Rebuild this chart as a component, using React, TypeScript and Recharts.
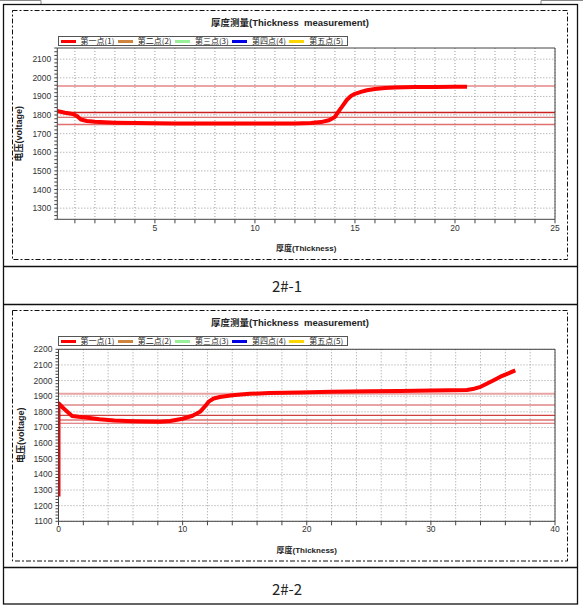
import React from 'react';
import { LineChart, Line, XAxis, YAxis, CartesianGrid, ReferenceLine, Legend } from 'recharts';

// ---------- data ----------
const seriesNames = ['第一点(1)', '第二点(2)', '第三点(3)', '第四点(4)', '第五点(5)'];

// chart 2#-1
const c1Thickness = [0.1, 0.5, 0.9, 1.1, 1.3, 1.6, 2.0, 2.5, 3.0, 4.0, 5.0, 6.0, 7.0, 8.0, 9.0, 10.0, 11.0, 12.0, 12.8, 13.3, 13.7, 14.0, 14.2, 14.4, 14.6, 14.8, 15.0, 15.3, 15.6, 16.0, 16.5, 17.0, 18.0, 19.0, 20.0, 20.6];
const c1Voltage = [1822, 1812, 1806, 1795, 1776, 1768, 1764, 1761, 1759, 1757, 1756, 1755, 1755, 1755, 1755, 1754, 1755, 1755, 1757, 1762, 1772, 1790, 1822, 1852, 1882, 1902, 1914, 1924, 1933, 1940, 1945, 1948, 1950, 1951, 1952, 1952];
const c1RefLines = [1956, 1813, 1788, 1749];
const c1XTicks = [1, 2, 3, 4, 5, 6, 7, 8, 9, 10, 11, 12, 13, 14, 15, 16, 17, 18, 19, 20, 21, 22, 23, 24, 25];
const c1XLabels = [5, 10, 15, 20, 25];
const c1YLabels = [1300, 1400, 1500, 1600, 1700, 1800, 1900, 2000, 2100];

// chart 2#-2
const c2Thickness = [0, 0, 0.4, 0.8, 1.1, 1.6, 2.2, 3.3, 4.5, 6.0, 7.0, 8.2, 9.0, 10.0, 10.8, 11.4, 11.8, 12.1, 12.5, 13.0, 14.0, 15.4, 17.0, 19.4, 22.0, 25.0, 27.5, 30.0, 32.9, 33.5, 34.0, 34.5, 35.1, 35.6, 36.2, 36.8];
const c2Voltage = [1258, 1855, 1823, 1795, 1774, 1768, 1764, 1752, 1745, 1740, 1738, 1737, 1742, 1756, 1775, 1800, 1835, 1865, 1885, 1895, 1906, 1915, 1920, 1923, 1928, 1931, 1933, 1936, 1940, 1948, 1960, 1980, 2004, 2025, 2045, 2065];
const c2RefLines = [1916, 1844, 1778, 1748, 1727];
const c2XTicks = [0, 2, 4, 6, 8, 10, 12, 14, 16, 18, 20, 22, 24, 26, 28, 30, 32, 34, 36, 38, 40];
const c2XLabels = [0, 10, 20, 30, 40];
const c2YLabels = [1100, 1200, 1300, 1400, 1500, 1600, 1700, 1800, 1900, 2000, 2100, 2200];

// ---------- styles ----------
const seriesColors = ['#ff0000', '#cd853f', '#98f098', '#0000e6', '#ffd700'];
const c1RefStyles = [
  { stroke: '#e48484', width: 1.5 },
  { stroke: '#cc2020', width: 1.5 },
  { stroke: '#d04848', width: 1 },
  { stroke: '#e07070', width: 1.5 },
];
const c2RefStyles = [
  { stroke: '#e8a4a4', width: 2 },
  { stroke: '#e8a4a4', width: 2 },
  { stroke: '#d04040', width: 1.2 },
  { stroke: '#cc3030', width: 1.2 },
  { stroke: '#d86060', width: 1.2 },
];

const LATIN = '"Liberation Sans", Arial, "Noto Sans CJK SC", sans-serif';
const AXIS = '#444';

function minorTicks(lo: number, hi: number, step: number) {
  const out: number[] = [];
  for (let v = lo; v <= hi + 1e-9; v += step) out.push(v);
  return out;
}

const LegendBox = (props: any) => {
  const payload = [...(props.payload || [])].sort(
    (a: any, b: any) => seriesNames.indexOf(a.value) - seriesNames.indexOf(b.value)
  );
  return (
    <div
      style={{
        display: 'flex',
        alignItems: 'center',
        border: '1px solid #555',
        height: 8,
        padding: '0 0 0 2px',
        background: '#fff',
        fontFamily: '"Noto Sans CJK SC", sans-serif',
        fontSize: 8,
        lineHeight: '8px',
        color: '#222',
        width: 286,
        boxSizing: 'content-box',
        overflow: 'hidden',
      }}
    >
      {payload.map((p: any, i: number) => (
        <div key={i} style={{ display: 'flex', alignItems: 'center', width: 57.5, height: 8 }}>
          <span style={{ display: 'inline-block', width: 15, height: 3, background: p.color, marginRight: 5 }} />
          <span style={{ whiteSpace: 'nowrap', display: 'inline-block', height: 8, lineHeight: '8px' }}>{p.value}</span>
        </div>
      ))}
    </div>
  );
};

type ChartProps = {
  top: number;
  thickness: number[];
  voltage: number[];
  refLines: number[];
  refStyles: { stroke: string; width: number }[];
  xDomain: [number, number];
  xTicks: number[];
  xLabels: number[];
  yDomain: [number, number];
  yLabels: number[];
  margin: { top: number; right: number; bottom: number; left: number };
  xTickGap: number;
};

function ThicknessChart(p: ChartProps) {
  const data = p.thickness.map((t, i) => ({ t, v: p.voltage[i] }));
  const yTicks = minorTicks(p.yDomain[0], p.yDomain[1], 20);
  const XTick = (tp: any) => {
    const v = tp.payload.value;
    if (!p.xLabels.includes(v)) return <g />;
    return (
      <text x={tp.x} y={tp.y + p.xTickGap} textAnchor="middle" fontSize={8.5} fontFamily={LATIN} fill="#333">
        {v}
      </text>
    );
  };
  const YTick = (tp: any) => {
    const v = tp.payload.value;
    if (!p.yLabels.includes(v)) return <g />;
    return (
      <text x={tp.x - 1} y={tp.y + 3} textAnchor="end" fontSize={8.5} fontFamily={LATIN} fill="#333">
        {v}
      </text>
    );
  };
  return (
    <div style={{ position: 'absolute', left: 0, top: p.top, width: 583, height: 262 }}>
      <div
        style={{
          position: 'absolute',
          left: 0,
          width: 580,
          top: 17,
          textAlign: 'center',
          fontFamily: LATIN,
          fontWeight: 'bold',
          fontSize: 9.5,
          lineHeight: '11px',
          color: '#222',
          whiteSpace: 'pre',
        }}
      >
        {'厚度测量(Thickness  measurement)'}
      </div>
      <LineChart width={583} height={262} margin={p.margin}>
        <CartesianGrid
          xAxisId="x"
          yAxisId="y"
          stroke="#9a9a9a"
          strokeDasharray="1 2"
          horizontalValues={p.yLabels}
          verticalValues={p.xTicks}
        />
        <XAxis
          xAxisId="x"
          dataKey="t"
          type="number"
          domain={p.xDomain}
          ticks={p.xTicks}
          interval={0}
          allowDataOverflow
          height={32}
          tickSize={4}
          tickLine={{ stroke: AXIS }}
          axisLine={{ stroke: AXIS }}
          tick={XTick}
          label={{
            value: '厚度(Thickness)',
            position: 'insideBottom',
            offset: 0,
            style: { fontSize: 8, fontWeight: 'bold', fontFamily: LATIN, fill: '#222' },
          }}
        />
        <XAxis
          xAxisId="top"
          type="number"
          orientation="top"
          mirror
          domain={p.xDomain}
          ticks={p.xTicks}
          interval={0}
          allowDataOverflow
          height={1}
          tickSize={3}
          tickLine={{ stroke: AXIS }}
          axisLine={{ stroke: AXIS }}
          tick={false}
        />
        <YAxis
          yAxisId="y"
          type="number"
          domain={p.yDomain}
          ticks={yTicks}
          interval={0}
          allowDataOverflow
          width={45}
          tickSize={3}
          tickLine={{ stroke: AXIS }}
          axisLine={{ stroke: AXIS }}
          tick={YTick}
          label={{
            value: '电压(voltage)',
            angle: -90,
            position: 'insideLeft',
            offset: 7,
            style: { fontSize: 9, fontWeight: 'bold', fontFamily: LATIN, fill: '#222', textAnchor: 'middle' },
          }}
        />
        <YAxis
          yAxisId="right"
          type="number"
          orientation="right"
          mirror
          domain={p.yDomain}
          ticks={yTicks}
          interval={0}
          allowDataOverflow
          width={1}
          tickSize={2}
          tickLine={{ stroke: AXIS }}
          axisLine={{ stroke: AXIS }}
          tick={false}
        />
        {p.refLines.map((v, i) => (
          <ReferenceLine
            key={'r' + i}
            xAxisId="x"
            yAxisId="y"
            y={v}
            stroke={p.refStyles[i].stroke}
            strokeWidth={p.refStyles[i].width}
          />
        ))}
        <Legend
          layout="horizontal"
          verticalAlign="middle"
          align="center"
          content={<LegendBox />}
          wrapperStyle={{ position: 'absolute', top: 36, left: 57.5, width: 'auto' }}
        />
        {seriesNames.map((name, i) => (
          <Line
            key={name}
            xAxisId="x"
            yAxisId="y"
            name={name}
            data={i === 0 ? data : []}
            dataKey="v"
            type="linear"
            stroke={seriesColors[i]}
            strokeWidth={4}
            strokeLinejoin="round"
            dot={false}
            activeDot={false}
            isAnimationActive={false}
          />
        ))}
      </LineChart>
    </div>
  );
}

export default function App() {
  return (
    <div style={{ position: 'absolute', left: 0, top: 0, width: 583, height: 609, background: '#fff' }}>
      <svg width={583} height={609} style={{ position: 'absolute', left: 0, top: 0 }}>
        <path d="M0 0.5 H41 V4.5 M541 4.5 V0.5 H583" stroke="#888" strokeWidth={1} fill="none" />
        <rect x={3.5} y={4.5} width={574} height={599.5} stroke="#111" strokeWidth={1.3} fill="none" />
        <line x1={3.5} x2={577.5} y1={266.5} y2={266.5} stroke="#111" strokeWidth={1.3} />
        <line x1={3.5} x2={577.5} y1={304.5} y2={304.5} stroke="#111" strokeWidth={1.3} />
        <line x1={3.5} x2={577.5} y1={567.5} y2={567.5} stroke="#111" strokeWidth={1.3} />
        <rect x={12.5} y={10.5} width={555} height={249} stroke="#111" strokeWidth={1} strokeDasharray="5 2 2 2" fill="none" />
        <rect x={12.5} y={310.5} width={555} height={250.5} stroke="#111" strokeWidth={1} strokeDasharray="5 2 2 2" fill="none" />
      </svg>
      <ThicknessChart
        top={0}
        thickness={c1Thickness}
        voltage={c1Voltage}
        refLines={c1RefLines}
        refStyles={c1RefStyles}
        xDomain={[0.12, 25]}
        xTicks={c1XTicks}
        xLabels={c1XLabels}
        yDomain={[1240, 2160]}
        yLabels={c1YLabels}
        margin={{ top: 48, right: 28, bottom: 10.7, left: 12.3 }}
        xTickGap={6}
      />
      <ThicknessChart
        top={300}
        thickness={c2Thickness}
        voltage={c2Voltage}
        refLines={c2RefLines}
        refStyles={c2RefStyles}
        xDomain={[0, 40]}
        xTicks={c2XTicks}
        xLabels={c2XLabels}
        yDomain={[1100, 2200]}
        yLabels={c2YLabels}
        margin={{ top: 49.3, right: 28, bottom: 8.7, left: 13.5 }}
        xTickGap={5}
      />
      <div
        style={{
          position: 'absolute',
          left: 0,
          width: 574,
          top: 276,
          textAlign: 'center',
          fontFamily: '"Noto Sans CJK SC", sans-serif',
          fontSize: 15,
          lineHeight: '20px',
          color: '#222',
        }}
      >
        2#-1
      </div>
      <div
        style={{
          position: 'absolute',
          left: 0,
          width: 574,
          top: 579,
          textAlign: 'center',
          fontFamily: '"Noto Sans CJK SC", sans-serif',
          fontSize: 15,
          lineHeight: '20px',
          color: '#222',
        }}
      >
        2#-2
      </div>
    </div>
  );
}
